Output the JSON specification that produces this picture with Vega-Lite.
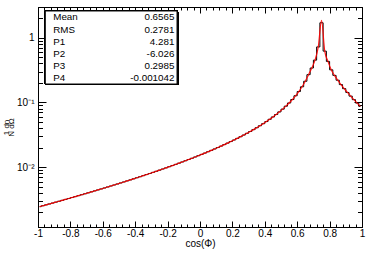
{
  "$schema": "https://vega.github.io/schema/vega-lite/v6.json",
  "width": 324,
  "height": 220,
  "autosize": {"type": "none"},
  "padding": {"left": 38, "top": 7, "right": 12, "bottom": 26},
  "background": "white",
  "config": {
    "view": {"stroke": "black", "strokeWidth": 1},
    "font": "Liberation Sans",
    "axis": {"domainColor": "black", "tickColor": "black", "labelColor": "black", "titleColor": "black", "grid": false, "labelFont": "Liberation Sans", "titleFont": "Liberation Sans", "titleFontWeight": "normal", "labelFontSize": 10, "domainWidth": 1, "tickWidth": 1}
  },
  "datasets": {
    "hist": [
      {"x": -0.99, "n": 0.002454, "f": 0.002454},
      {"x": -0.97, "n": 0.002533, "f": 0.002533},
      {"x": -0.95, "n": 0.002616, "f": 0.002616},
      {"x": -0.93, "n": 0.0027, "f": 0.0027},
      {"x": -0.91, "n": 0.002789, "f": 0.002789},
      {"x": -0.89, "n": 0.002881, "f": 0.002881},
      {"x": -0.87, "n": 0.002975, "f": 0.002975},
      {"x": -0.85, "n": 0.003074, "f": 0.003074},
      {"x": -0.83, "n": 0.003177, "f": 0.003177},
      {"x": -0.81, "n": 0.003282, "f": 0.003282},
      {"x": -0.79, "n": 0.003393, "f": 0.003393},
      {"x": -0.77, "n": 0.003507, "f": 0.003507},
      {"x": -0.75, "n": 0.003626, "f": 0.003626},
      {"x": -0.73, "n": 0.00375, "f": 0.00375},
      {"x": -0.71, "n": 0.003879, "f": 0.003879},
      {"x": -0.69, "n": 0.004013, "f": 0.004013},
      {"x": -0.67, "n": 0.004152, "f": 0.004152},
      {"x": -0.65, "n": 0.004298, "f": 0.004298},
      {"x": -0.63, "n": 0.004449, "f": 0.004449},
      {"x": -0.61, "n": 0.004606, "f": 0.004606},
      {"x": -0.59, "n": 0.00477, "f": 0.00477},
      {"x": -0.57, "n": 0.004941, "f": 0.004941},
      {"x": -0.55, "n": 0.005117, "f": 0.005117},
      {"x": -0.53, "n": 0.005303, "f": 0.005303},
      {"x": -0.51, "n": 0.005497, "f": 0.005497},
      {"x": -0.49, "n": 0.005698, "f": 0.005698},
      {"x": -0.47, "n": 0.005909, "f": 0.005909},
      {"x": -0.45, "n": 0.006131, "f": 0.006131},
      {"x": -0.43, "n": 0.006359, "f": 0.006359},
      {"x": -0.41, "n": 0.0066, "f": 0.0066},
      {"x": -0.39, "n": 0.006855, "f": 0.006855},
      {"x": -0.37, "n": 0.007117, "f": 0.007117},
      {"x": -0.35, "n": 0.007393, "f": 0.007393},
      {"x": -0.33, "n": 0.007683, "f": 0.007683},
      {"x": -0.31, "n": 0.007985, "f": 0.007985},
      {"x": -0.29, "n": 0.008306, "f": 0.008306},
      {"x": -0.27, "n": 0.00864, "f": 0.00864},
      {"x": -0.25, "n": 0.008989, "f": 0.008989},
      {"x": -0.23, "n": 0.009363, "f": 0.009363},
      {"x": -0.21, "n": 0.009748, "f": 0.009748},
      {"x": -0.19, "n": 0.010158, "f": 0.010158},
      {"x": -0.17, "n": 0.010585, "f": 0.010585},
      {"x": -0.15, "n": 0.011041, "f": 0.011041},
      {"x": -0.13, "n": 0.011518, "f": 0.011518},
      {"x": -0.11, "n": 0.012023, "f": 0.012023},
      {"x": -0.09, "n": 0.012559, "f": 0.012559},
      {"x": -0.07, "n": 0.013126, "f": 0.013126},
      {"x": -0.05, "n": 0.013719, "f": 0.013719},
      {"x": -0.03, "n": 0.014355, "f": 0.014355},
      {"x": -0.01, "n": 0.015031, "f": 0.015031},
      {"x": 0.01, "n": 0.015743, "f": 0.015743},
      {"x": 0.03, "n": 0.016504, "f": 0.016504},
      {"x": 0.05, "n": 0.017318, "f": 0.017318},
      {"x": 0.07, "n": 0.01818, "f": 0.01818},
      {"x": 0.09, "n": 0.019107, "f": 0.019107},
      {"x": 0.11, "n": 0.020099, "f": 0.020099},
      {"x": 0.13, "n": 0.021158, "f": 0.021158},
      {"x": 0.15, "n": 0.022297, "f": 0.022297},
      {"x": 0.17, "n": 0.02353, "f": 0.02353},
      {"x": 0.19, "n": 0.024856, "f": 0.024856},
      {"x": 0.21, "n": 0.026286, "f": 0.026286},
      {"x": 0.23, "n": 0.027836, "f": 0.027836},
      {"x": 0.25, "n": 0.029529, "f": 0.029529},
      {"x": 0.27, "n": 0.031356, "f": 0.031356},
      {"x": 0.29, "n": 0.033368, "f": 0.033368},
      {"x": 0.31, "n": 0.035563, "f": 0.035563},
      {"x": 0.33, "n": 0.037983, "f": 0.037983},
      {"x": 0.35, "n": 0.040663, "f": 0.040663},
      {"x": 0.37, "n": 0.043625, "f": 0.043625},
      {"x": 0.39, "n": 0.046935, "f": 0.046935},
      {"x": 0.41, "n": 0.050654, "f": 0.050654},
      {"x": 0.43, "n": 0.054852, "f": 0.054852},
      {"x": 0.45, "n": 0.059617, "f": 0.059617},
      {"x": 0.47, "n": 0.065089, "f": 0.065089},
      {"x": 0.49, "n": 0.071418, "f": 0.071418},
      {"x": 0.51, "n": 0.078742, "f": 0.078742},
      {"x": 0.53, "n": 0.087508, "f": 0.087508},
      {"x": 0.55, "n": 0.098016, "f": 0.098016},
      {"x": 0.57, "n": 0.1108, "f": 0.1108},
      {"x": 0.59, "n": 0.1268, "f": 0.1268},
      {"x": 0.61, "n": 0.1473, "f": 0.1473},
      {"x": 0.63, "n": 0.1744, "f": 0.1744},
      {"x": 0.65, "n": 0.2123, "f": 0.2123},
      {"x": 0.67, "n": 0.2685, "f": 0.2685},
      {"x": 0.69, "n": 0.34, "f": 0.34},
      {"x": 0.71, "n": 0.45, "f": 0.45},
      {"x": 0.73, "n": 0.72, "f": 0.72},
      {"x": 0.75, "n": 1.7, "f": 1.85},
      {"x": 0.77, "n": 0.62, "f": 0.62},
      {"x": 0.79, "n": 0.43, "f": 0.43},
      {"x": 0.81, "n": 0.3189, "f": 0.3189},
      {"x": 0.83, "n": 0.2617, "f": 0.2617},
      {"x": 0.85, "n": 0.2204, "f": 0.2204},
      {"x": 0.87, "n": 0.1886, "f": 0.1886},
      {"x": 0.89, "n": 0.1633, "f": 0.1633},
      {"x": 0.91, "n": 0.1425, "f": 0.1425},
      {"x": 0.93, "n": 0.1252, "f": 0.1252},
      {"x": 0.95, "n": 0.1104, "f": 0.1104},
      {"x": 0.97, "n": 0.0978, "f": 0.0978},
      {"x": 0.99, "n": 0.0869, "f": 0.0869}
    ],
    "stats": [
      {"stat": "Mean", "value": 0.6565},
      {"stat": "RMS", "value": 0.2781},
      {"stat": "P1", "value": 4.281},
      {"stat": "P2", "value": -6.026},
      {"stat": "P3", "value": 0.2985},
      {"stat": "P4", "value": -0.001042}
    ]
  },
  "layer": [
    {
      "data": {"name": "hist"},
      "layer": [
        {
          "mark": {"type": "line", "interpolate": "step", "color": "black", "strokeWidth": 1},
          "encoding": {
            "x": {"field": "x", "type": "quantitative",
              "scale": {"domain": [-1, 1], "nice": false, "zero": false},
              "axis": {"orient": "bottom", "title": "cos(Φ)", "titleFontSize": 10, "titleX": 162, "titleY": 16, "titleBaseline": "middle", "titleAlign": "center",
                "values": [-1,-0.96,-0.92,-0.88,-0.84,-0.8,-0.76,-0.72,-0.68,-0.64,-0.6,-0.56,-0.52,-0.48,-0.44,-0.4,-0.36,-0.32,-0.28,-0.24,-0.2,-0.16,-0.12,-0.08,-0.04,0,0.04,0.08,0.12,0.16,0.2,0.24,0.28,0.32,0.36,0.4,0.44,0.48,0.52,0.56,0.6,0.64,0.68,0.72,0.76,0.8,0.84,0.88,0.92,0.96,1],
                "tickSize": {"condition": {"test": "abs(datum.value*5 - round(datum.value*5)) < 0.001", "value": -6}, "value": -3},
                "labelExpr": "abs(datum.value*5 - round(datum.value*5)) < 0.001 ? toString(round(datum.value*10)/10) : ''",
                "labelPadding": 7, "labelFlush": false, "labelOverlap": false, "labelBaseline": "top"}},
            "y": {"field": "n", "type": "quantitative",
              "scale": {"type": "log", "domain": [0.00119, 2.98], "nice": false},
              "axis": {"orient": "left", "title": ["1  dn", "N  dΩ"], "titleFontSize": 8, "titleLineHeight": 5.5, "titleAngle": -90, "titleX": -32, "titleY": 120, "titleAlign": "center", "titleBaseline": "middle",
                "values": [0.002,0.003,0.004,0.005,0.006,0.007,0.008,0.009,0.01,0.02,0.03,0.04,0.05,0.06,0.07,0.08,0.09,0.1,0.2,0.3,0.4,0.5,0.6,0.7,0.8,0.9,1,2],
                "tickSize": {"condition": {"test": "datum.value == 0.01 || datum.value == 0.1 || datum.value == 1", "value": -8}, "value": -4.5},
                "labelExpr": "datum.value == 1 ? '1' : datum.value == 0.1 ? '10⁻¹' : datum.value == 0.01 ? '10⁻²' : ''",
                "labelPadding": 12, "labelFlush": false, "labelOverlap": false, "labelBaseline": "middle"}}
          }
        },
        {
          "mark": {"type": "line", "interpolate": "monotone", "color": "#ff0000", "strokeWidth": 1.2, "opacity": 0.9},
          "encoding": {
            "x": {"field": "x", "type": "quantitative",
              "scale": {"domain": [-1, 1], "nice": false, "zero": false},
              "axis": {"orient": "top", "title": null, "labels": false,
                "values": [-1,-0.96,-0.92,-0.88,-0.84,-0.8,-0.76,-0.72,-0.68,-0.64,-0.6,-0.56,-0.52,-0.48,-0.44,-0.4,-0.36,-0.32,-0.28,-0.24,-0.2,-0.16,-0.12,-0.08,-0.04,0,0.04,0.08,0.12,0.16,0.2,0.24,0.28,0.32,0.36,0.4,0.44,0.48,0.52,0.56,0.6,0.64,0.68,0.72,0.76,0.8,0.84,0.88,0.92,0.96,1],
                "tickSize": {"condition": {"test": "abs(datum.value*5 - round(datum.value*5)) < 0.001", "value": -6}, "value": -3}}},
            "y": {"field": "f", "type": "quantitative",
              "scale": {"type": "log", "domain": [0.00119, 2.98], "nice": false},
              "axis": {"orient": "right", "title": null, "labels": false,
                "values": [0.002,0.003,0.004,0.005,0.006,0.007,0.008,0.009,0.01,0.02,0.03,0.04,0.05,0.06,0.07,0.08,0.09,0.1,0.2,0.3,0.4,0.5,0.6,0.7,0.8,0.9,1,2],
                "tickSize": {"condition": {"test": "datum.value == 0.01 || datum.value == 0.1 || datum.value == 1", "value": -8}, "value": -4.5}}}
          }
        },
        {
          "mark": {"type": "rect", "fill": "black"},
          "encoding": {
            "x": {"datum": -0.946, "type": "quantitative", "axis": null},
            "x2": {"datum": -0.132},
            "y": {"datum": 0.1855, "type": "quantitative", "axis": null},
            "y2": {"datum": 2.5}
          }
        },
        {
          "mark": {"type": "rect", "fill": "white", "stroke": "black", "strokeWidth": 1},
          "encoding": {
            "x": {"datum": -0.955, "type": "quantitative", "axis": null},
            "x2": {"datum": -0.1417},
            "y": {"datum": 0.1924, "type": "quantitative", "axis": null},
            "y2": {"datum": 2.587}
          }
        }
      ],
      "resolve": {"axis": {"x": "independent", "y": "independent"}}
    },
    {
      "data": {"name": "stats"},
      "layer": [
        {
          "mark": {"type": "text", "align": "left", "baseline": "middle", "fontSize": 9.8, "color": "black"},
          "encoding": {
            "x": {"datum": -0.906, "type": "quantitative", "axis": null},
            "y": {"field": "stat", "type": "ordinal", "sort": null, "axis": null,
              "scale": {"type": "point", "domain": ["Mean", "RMS", "P1", "P2", "P3", "P4"], "range": [10.4, 71.4], "padding": 0}},
            "text": {"field": "stat", "type": "nominal"}
          }
        },
        {
          "mark": {"type": "text", "align": "right", "baseline": "middle", "fontSize": 9.8, "color": "black"},
          "encoding": {
            "x": {"datum": -0.158, "type": "quantitative", "axis": null},
            "y": {"field": "stat", "type": "ordinal", "sort": null, "axis": null,
              "scale": {"type": "point", "domain": ["Mean", "RMS", "P1", "P2", "P3", "P4"], "range": [10.4, 71.4], "padding": 0}},
            "text": {"field": "value", "type": "nominal"}
          }
        }
      ]
    }
  ],
  "resolve": {"scale": {"y": "independent"}}
}
